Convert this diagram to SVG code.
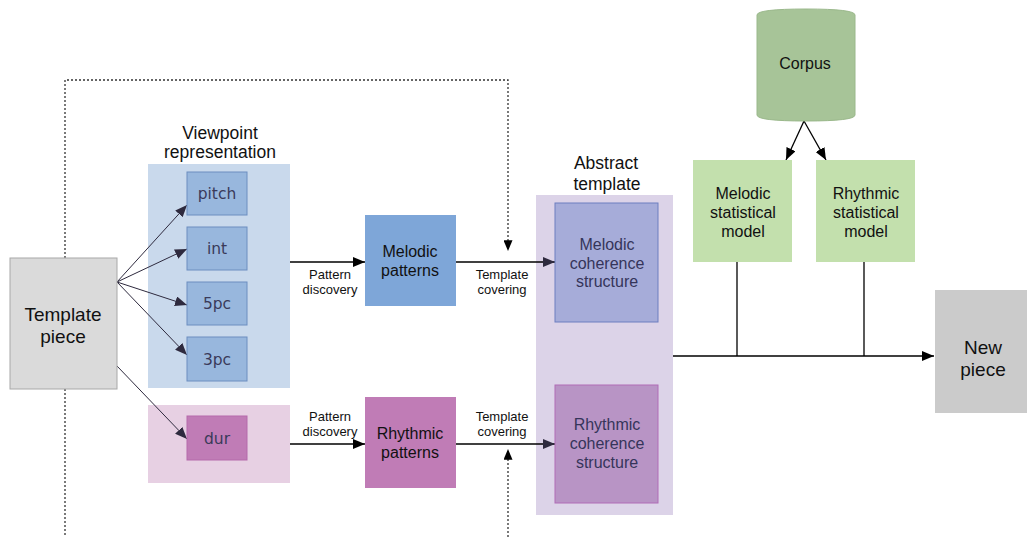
<svg xmlns="http://www.w3.org/2000/svg" width="1027" height="537" viewBox="0 0 1027 537">
<defs>
<marker id="ab" viewBox="0 0 12 10" refX="12" refY="5" markerWidth="12" markerHeight="10" markerUnits="userSpaceOnUse" orient="auto"><path d="M0,0 L12,5 L0,10 z" fill="#000"/></marker>
<marker id="ad" viewBox="0 0 12 10" refX="12" refY="5" markerWidth="12" markerHeight="10" markerUnits="userSpaceOnUse" orient="auto"><path d="M0,0 L12,5 L0,10 z" fill="#2e2a3e"/></marker>
<marker id="as" viewBox="0 0 12 10" refX="12" refY="5" markerWidth="11" markerHeight="9" markerUnits="userSpaceOnUse" orient="auto"><path d="M0,0 L12,5 L0,10 z" fill="#000"/></marker>
</defs>
<style>
text{font-family:"Liberation Sans",Arial,sans-serif;text-anchor:middle;fill:#111}
.big{font-size:19px}
.ttl{font-size:17.5px}
.mid{font-size:16px}
.sm{font-size:13px}
.mono{font-family:"DejaVu Sans",sans-serif;font-size:15.5px;fill:#3a3a5a}
.cs{fill:#35355a}
.vp{fill:#98b7dd;stroke:#6c8ebf;stroke-width:1}
.ln{stroke:#000;stroke-width:1.3;fill:none}
.dl{stroke:#333;stroke-width:1.3;fill:none;stroke-dasharray:2 2}
.dk{stroke:#2e2a3e;stroke-width:1;fill:none}
</style>

<g id="panel-viewpoint">
<rect x="148" y="164" width="142" height="224" fill="#c9d9ec"/>
<text class="ttl" x="220" y="139">Viewpoint</text>
<text class="ttl" x="220" y="158">representation</text>
</g>
<g id="panel-dur"><rect x="148" y="405" width="142" height="78" fill="#e7d0e3"/></g>
<g id="panel-abstract">
<rect x="536" y="195" width="137" height="320" fill="#dcd3e8"/>
<text class="ttl" x="606" y="169">Abstract</text>
<text class="ttl" x="607" y="190">template</text>
</g>

<g id="connectors">
<path class="dl" d="M65,258 V80 H508 V251" marker-end="url(#as)"/>
<path class="dl" d="M65,389 V537"/>
<path class="dl" d="M508,537 V449" marker-end="url(#as)"/>
<path class="dk" d="M117,282 L187,205" marker-end="url(#ad)"/>
<path class="dk" d="M117,282 L187,249" marker-end="url(#ad)"/>
<path class="dk" d="M117,282 L187,305" marker-end="url(#ad)"/>
<path class="dk" d="M117,282 L187,355" marker-end="url(#ad)"/>
<path class="dk" d="M117,366 L187,439" marker-end="url(#ad)"/>
<path class="ln" d="M290,262 H365" marker-end="url(#ab)"/>
<path class="ln" d="M290,444 H365" marker-end="url(#ab)"/>
<path class="ln" d="M456,262 H555" marker-end="url(#ad)"/>
<path class="ln" d="M456,444 H555" marker-end="url(#ad)"/>
<path class="ln" d="M804,121 L786,160" marker-end="url(#ab)"/>
<path class="ln" d="M804,121 L826,160" marker-end="url(#ab)"/>
<path class="ln" d="M673,356 H934" marker-end="url(#ab)"/>
<path class="ln" d="M737,262 V356"/>
<path class="ln" d="M864,262 V356"/>
<text class="sm" x="330" y="279">Pattern</text>
<text class="sm" x="330" y="294">discovery</text>
<text class="sm" x="330" y="421">Pattern</text>
<text class="sm" x="330" y="436">discovery</text>
<text class="sm" x="502" y="279">Template</text>
<text class="sm" x="502" y="294">covering</text>
<text class="sm" x="502" y="421">Template</text>
<text class="sm" x="502" y="436">covering</text>
</g>

<g id="template-piece">
<rect x="10" y="258" width="107" height="131" fill="#dadada" stroke="#a8a8a8"/>
<text class="big" x="63" y="321">Template</text>
<text class="big" x="63" y="343">piece</text>
</g>

<g id="vp-pitch"><rect class="vp" x="187" y="172" width="60" height="43"/><text class="mono" x="217" y="199">pitch</text></g>
<g id="vp-int"><rect class="vp" x="187" y="227" width="60" height="43"/><text class="mono" x="217" y="254">int</text></g>
<g id="vp-5pc"><rect class="vp" x="187" y="282" width="60" height="43"/><text class="mono" x="217" y="309">5pc</text></g>
<g id="vp-3pc"><rect class="vp" x="187" y="337" width="60" height="44"/><text class="mono" x="217" y="365">3pc</text></g>
<g id="vp-dur"><rect x="187" y="416" width="60" height="44" fill="#c07cb6" stroke="#b56aab"/><text class="mono" x="217" y="444">dur</text></g>

<g id="melodic-patterns">
<rect x="365" y="215" width="91" height="91" fill="#7ea6d8"/>
<text class="mid" x="410" y="257">Melodic</text>
<text class="mid" x="410" y="276">patterns</text>
</g>
<g id="rhythmic-patterns">
<rect x="365" y="397" width="91" height="91" fill="#c07cb6"/>
<text class="mid" x="410" y="439">Rhythmic</text>
<text class="mid" x="410" y="458">patterns</text>
</g>

<g id="melodic-coherence">
<rect x="555" y="203" width="103" height="119" fill="#a6acd9" stroke="#6c7fbf"/>
<text class="mid cs" x="607" y="250">Melodic</text>
<text class="mid cs" x="607" y="269">coherence</text>
<text class="mid cs" x="607" y="287">structure</text>
</g>
<g id="rhythmic-coherence">
<rect x="555" y="385" width="103" height="118" fill="#b894c5" stroke="#b06cb6"/>
<text class="mid cs" x="607" y="430">Rhythmic</text>
<text class="mid cs" x="607" y="449">coherence</text>
<text class="mid cs" x="607" y="468">structure</text>
</g>

<g id="corpus">
<path d="M757,15 Q757,9 806,9 Q855,9 855,15 V115 Q855,121 806,121 Q757,121 757,115 Z" fill="#a7c498" stroke="#9ab88b"/>
<text class="mid" x="805" y="69">Corpus</text>
</g>
<g id="melodic-model">
<rect x="693" y="160" width="99" height="102" fill="#c3e0ad"/>
<text class="mid" x="743" y="199">Melodic</text>
<text class="mid" x="743" y="218">statistical</text>
<text class="mid" x="743" y="237">model</text>
</g>
<g id="rhythmic-model">
<rect x="816" y="160" width="99" height="102" fill="#c3e0ad"/>
<text class="mid" x="866" y="199">Rhythmic</text>
<text class="mid" x="866" y="218">statistical</text>
<text class="mid" x="866" y="237">model</text>
</g>
<g id="new-piece">
<rect x="935" y="290" width="92" height="123" fill="#cbcbcb"/>
<text class="big" x="983" y="354">New</text>
<text class="big" x="983" y="376">piece</text>
</g>
</svg>
